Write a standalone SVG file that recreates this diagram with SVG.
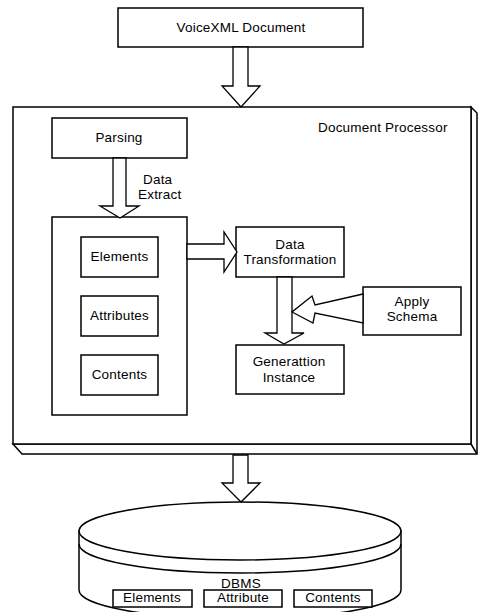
<svg xmlns="http://www.w3.org/2000/svg" width="478" height="612" viewBox="0 0 478 612">
<style>
.b{fill:#fff;stroke:#000;stroke-width:1.5}
.l{fill:none;stroke:#000;stroke-width:1.5}
.a{fill:#fff;stroke:#000;stroke-width:1.3;stroke-linejoin:miter}
text{font-family:"Liberation Sans",Arial,sans-serif;font-size:13.5px;letter-spacing:0.2px;fill:#000}
.c{text-anchor:middle}
</style>
<rect width="478" height="612" fill="#fff"/>
<g id="voicexml">
<rect class="b" x="118" y="8" width="245" height="39"/>
<text class="c" x="241" y="32">VoiceXML Document</text>
</g>
<g id="document-processor">
<polygon class="b" points="13,444 22,454 477,454 477,113 471,107 471,444"/>
<line class="l" x1="471" y1="444" x2="477" y2="454"/>
<rect class="b" x="13" y="107" width="458" height="337"/>
<text x="318" y="132">Document Processor</text>
</g>
<g id="parsing">
<rect class="b" x="52" y="118" width="135" height="40"/>
<text class="c" x="119" y="142">Parsing</text>
</g>
<g id="extract-container">
<rect class="b" x="52" y="217" width="135" height="198"/>
</g>
<g id="elements">
<rect class="b" x="81" y="237" width="77" height="40"/>
<text class="c" x="119.5" y="261">Elements</text>
</g>
<g id="attributes">
<rect class="b" x="81" y="296" width="77" height="40"/>
<text class="c" x="119.5" y="320">Attributes</text>
</g>
<g id="contents">
<rect class="b" x="81" y="355" width="77" height="40"/>
<text class="c" x="119.5" y="379">Contents</text>
</g>
<g id="data-transformation">
<rect class="b" x="236" y="227" width="108" height="50"/>
<text class="c" x="290" y="249">Data</text>
<text class="c" x="290" y="264">Transformation</text>
</g>
<g id="generation-instance">
<rect class="b" x="236" y="345" width="108" height="49"/>
<text class="c" x="289" y="366">Generattion</text>
<text class="c" x="289" y="382">Instance</text>
</g>
<g id="apply-schema">
<rect class="b" x="363" y="287" width="98" height="48"/>
<text class="c" x="412" y="306">Apply</text>
<text class="c" x="412" y="321">Schema</text>
</g>
<g id="dbms">
<path class="b" d="M79,531 L79,590 A161,29 0 0 0 401,590 L401,531 Z"/>
<ellipse class="b" cx="240" cy="531" rx="161" ry="29"/>
<path class="l" d="M79,544 A161,29 0 0 0 401,544"/>
<text class="c" x="241" y="588">DBMS</text>
<rect class="b" x="113" y="590" width="79" height="17"/>
<text class="c" x="152" y="602">Elements</text>
<rect class="b" x="204" y="590" width="78" height="17"/>
<text class="c" x="243" y="602">Attribute</text>
<rect class="b" x="294" y="590" width="78" height="17"/>
<text class="c" x="333" y="602">Contents</text>
</g>
<g id="connectors">
<polygon class="a" points="233,47 233,86 222,86 241,107 260,86 248,86 248,47"/>
<polygon class="a" points="113,158 113,206 100,206 120,218 139,206 126,206 126,158"/>
<text x="143" y="184">Data</text>
<text x="138" y="199">Extract</text>
<polygon class="a" points="187,244 224,244 224,232 237,252 224,272 224,259 187,259"/>
<polygon class="a" points="277,277 277,333 265,333 284,344 304,333 292,333 292,277"/>
<polygon class="a" points="363,294 315,305 312,296 292,312 313,323 315,313 363,323"/>
<polygon class="a" points="233,455 233,483 222,483 241,502 260,483 248,483 248,455"/>
</g>
</svg>
